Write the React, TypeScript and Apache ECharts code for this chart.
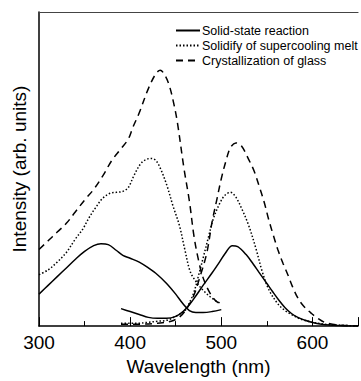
import React, { useEffect, useRef } from "react";
import * as echarts from "echarts";

const xTicks = [300, 400, 500, 600];
const seriesNames = ["Solid-state reaction", "Solidify of supercooling melt", "Crystallization of glass"];

const solidExcWl = [300, 310, 320, 330, 340, 350, 360, 368, 376, 385, 392, 400, 410, 420, 430, 440, 450, 458, 465, 472, 480, 490, 500];
const solidExcI = [33, 42, 51, 60, 69, 77, 83, 85, 84, 78, 73, 70, 66, 60, 53, 44, 33, 23, 16, 14, 14, 15, 17];

const solidEmWl = [390, 400, 410, 420, 430, 440, 450, 458, 465, 472, 480, 490, 498, 505, 512, 518, 527, 535, 541, 550, 556, 563, 570, 577, 584, 592, 599, 610, 624, 640, 650];
const solidEmI = [18, 15, 12, 9, 8, 8, 10, 15, 22, 31, 42, 55, 66, 76, 83, 82, 74, 64, 56, 44, 36, 27, 19, 13, 9, 6, 4, 2, 1, 0, 0];

const dotExcWl = [300, 310, 320, 330, 340, 348, 355, 362, 370, 378, 385, 392, 398, 404, 412, 418, 423, 428, 433, 440, 447, 454, 460, 466, 473, 481, 491, 500];
const dotExcI = [53, 58, 66, 76, 90, 100, 112, 122, 132, 137, 138, 139, 143, 155, 168, 172, 173, 171, 163, 146, 124, 104, 79, 56, 45, 36, 28, 23];

const dotEmWl = [390, 400, 410, 420, 430, 440, 450, 460, 465, 470, 475, 480, 486, 491, 498, 504, 510, 516, 522, 530, 538, 545, 552, 562, 570, 577, 585, 591, 600, 613, 630, 650];
const dotEmI = [3, 3, 3, 4, 5, 6, 10, 16, 24, 35, 52, 70, 92, 110, 126, 135, 138, 133, 122, 104, 80, 56, 38, 23, 16, 12, 8, 6, 4, 2, 1, 0];

const dashExcWl = [300, 310, 320, 330, 340, 350, 360, 370, 380, 390, 398, 403, 410, 420, 428, 433, 438, 443, 448, 452, 459, 465, 470, 475, 480, 487, 493, 500];
const dashExcI = [79, 88, 97, 106, 118, 130, 141, 155, 171, 183, 193, 205, 220, 245, 260, 264, 259, 248, 229, 209, 163, 129, 93, 68, 50, 35, 27, 22];

const dashEmWl = [390, 410, 430, 445, 455, 462, 470, 476, 484, 490, 495, 500, 505, 510, 516, 522, 530, 536, 541, 547, 552, 557, 562, 568, 573, 578, 584, 590, 599, 606, 613, 622, 631, 650];
const dashEmI = [2, 2, 3, 5, 10, 18, 32, 49, 75, 108, 130, 152, 170, 184, 189, 186, 172, 160, 146, 128, 110, 94, 79, 64, 53, 41, 29, 21, 13, 8, 4, 2, 1, 0];

const zip = (a: number[], b: number[]) => a.map((v, i) => [v, b[i]]);

const FONT = "'Liberation Sans', Arial, sans-serif";

export default function App() {
  const ref = useRef<HTMLDivElement>(null);
  useEffect(() => {
    if (!ref.current) return;
    const chart = echarts.init(ref.current, null, { renderer: "svg" });
    const mk = (name: string, wl: number[], it: number[], type: any) => ({
      name,
      type: "line",
      data: zip(wl, it),
      showSymbol: false,
      symbol: "none",
      smooth: 0.35,
      lineStyle: { color: "#000", width: 1.5, type },
      itemStyle: { color: "#000" },
      z: 3,
    });
    const dotted = [1.5, 2];
    const dashed = [7, 5];
    chart.setOption({
      animation: false,
      backgroundColor: "#fff",
      grid: { left: 39, top: 12, width: 326, height: 324, containLabel: false },
      legend: {
        data: seriesNames,
        orient: "vertical",
        left: 170,
        top: 19,
        itemWidth: 24,
        itemHeight: 12,
        itemGap: 2,
        itemStyle: { opacity: 0 },
        textStyle: { fontFamily: FONT, fontSize: 12.5, color: "#000", padding: [0, 0, 0, -3] },
      },
      xAxis: [
        {
          type: "value",
          min: 300,
          max: 650,
          interval: 100,
          name: "Wavelength (nm)",
          nameLocation: "middle",
          nameGap: 24,
          nameTextStyle: { fontFamily: FONT, fontSize: 19, color: "#000" },
          axisLine: { show: true, onZero: false, lineStyle: { color: "#000", width: 1.5 } },
          axisTick: { show: true, inside: true, length: 9, lineStyle: { color: "#000", width: 1 } },
          minorTick: { show: true, splitNumber: 2, length: 5, lineStyle: { color: "#000", width: 1 } },
          axisLabel: {
            fontFamily: FONT,
            fontSize: 19,
            color: "#000",
            margin: 7,
            formatter: (v: number) => (xTicks.includes(v) ? String(v) : ""),
          },
          splitLine: { show: false },
        },
        {
          type: "value",
          position: "top",
          min: 300,
          max: 650,
          axisLine: { show: true, onZero: false, lineStyle: { color: "#444", width: 1.2 } },
          axisTick: { show: false },
          axisLabel: { show: false },
          splitLine: { show: false },
        },
      ],
      yAxis: {
        type: "value",
        min: 0,
        max: 324,
        name: "Intensity (arb. units)",
        nameLocation: "middle",
        nameGap: 10,
        nameTextStyle: { fontFamily: FONT, fontSize: 19, color: "#000" },
        axisLine: { show: true, onZero: false, lineStyle: { color: "#000", width: 1.5 } },
        axisTick: { show: false },
        axisLabel: { show: false },
        splitLine: { show: false },
      },
      series: [
        mk(seriesNames[0], solidExcWl, solidExcI, "solid"),
        mk(seriesNames[1], dotExcWl, dotExcI, dotted),
        mk(seriesNames[2], dashExcWl, dashExcI, dashed),
        mk(seriesNames[0], solidEmWl, solidEmI, "solid"),
        mk(seriesNames[1], dotEmWl, dotEmI, dotted),
        mk(seriesNames[2], dashEmWl, dashEmI, dashed),
      ],
    });
    return () => chart.dispose();
  }, []);
  return (
    <div
      ref={ref}
      style={{ position: "fixed", left: 0, top: 0, width: 361, height: 381, background: "#fff" }}
    />
  );
}
